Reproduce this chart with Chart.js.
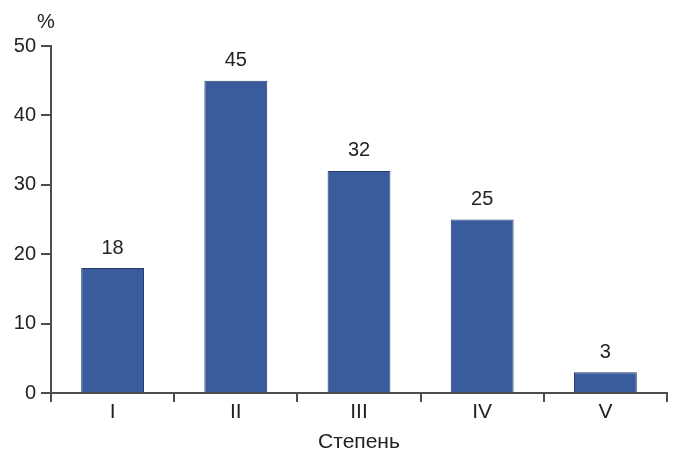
<!DOCTYPE html>
<html>
<head>
<meta charset="utf-8">
<script src="https://cdn.jsdelivr.net/npm/chart.js@4/dist/chart.umd.min.js"></script>
<style>
  html, body { margin: 0; padding: 0; background: #ffffff; }
  #wrap { width: 674px; height: 453px; }
</style>
</head>
<body>
<div id="wrap"><canvas id="chart" width="674" height="453"></canvas></div>
<script>
// Distribution by degree, percent
const categories = ['I', 'II', 'III', 'IV', 'V'];
const percentValues = [18, 45, 32, 25, 3];
const yTicks = [0, 10, 20, 30, 40, 50];

const axisColor = '#4d4d4d';
const textColor = '#222222';
const fontFamily = '"Liberation Sans", Arial, sans-serif';

// Value labels above bars and the unit sign over the y axis
const labelsPlugin = {
  id: 'valueLabels',
  afterDatasetsDraw(chart) {
    const ctx = chart.ctx;
    const meta = chart.getDatasetMeta(0);
    ctx.save();
    ctx.fillStyle = textColor;
    ctx.font = '20px ' + fontFamily;
    ctx.textAlign = 'center';
    ctx.textBaseline = 'bottom';
    meta.data.forEach((bar, i) => {
      ctx.fillText(String(percentValues[i]), bar.x, bar.y - 10);
    });
    ctx.font = '20px ' + fontFamily;
    ctx.textBaseline = 'middle';
    ctx.fillText('%', 46, 22);
    ctx.restore();
  }
};

new Chart(document.getElementById('chart'), {
  type: 'bar',
  data: {
    labels: categories,
    datasets: [{
      data: percentValues,
      backgroundColor: '#3a5b9e',
      borderColor: '#283c68',
      borderWidth: 1,
      barPercentage: 0.51,
      categoryPercentage: 1.0
    }]
  },
  options: {
    responsive: false,
    animation: false,
    layout: { padding: { top: 46, right: 7, bottom: 0, left: 0 } },
    plugins: {
      legend: { display: false },
      tooltip: { enabled: false }
    },
    scales: {
      x: {
        afterFit(scale) { scale.height = 60; },
        grid: {
          offset: true,
          drawOnChartArea: false,
          drawTicks: true,
          tickLength: 9,
          color: axisColor,
          lineWidth: 2
        },
        border: { display: true, color: axisColor, width: 2 },
        ticks: {
          color: textColor,
          font: { family: fontFamily, size: 21, lineHeight: 1.0 },
          padding: 0
        },
        title: {
          display: true,
          text: 'Степень',
          color: textColor,
          font: { family: fontFamily, size: 21, lineHeight: 1.0 },
          padding: { top: 0, bottom: 0 }
        }
      },
      y: {
        min: 0,
        max: 50,
        afterFit(scale) { scale.width = 51; },
        afterBuildTicks(scale) { scale.ticks = yTicks.map(v => ({ value: v })); },
        grid: {
          drawOnChartArea: false,
          drawTicks: true,
          tickLength: 10,
          color: axisColor,
          lineWidth: 2
        },
        border: { display: true, color: axisColor, width: 2 },
        ticks: {
          color: textColor,
          font: { family: fontFamily, size: 20 },
          padding: 5
        }
      }
    }
  },
  plugins: [labelsPlugin]
});
</script>
</body>
</html>
